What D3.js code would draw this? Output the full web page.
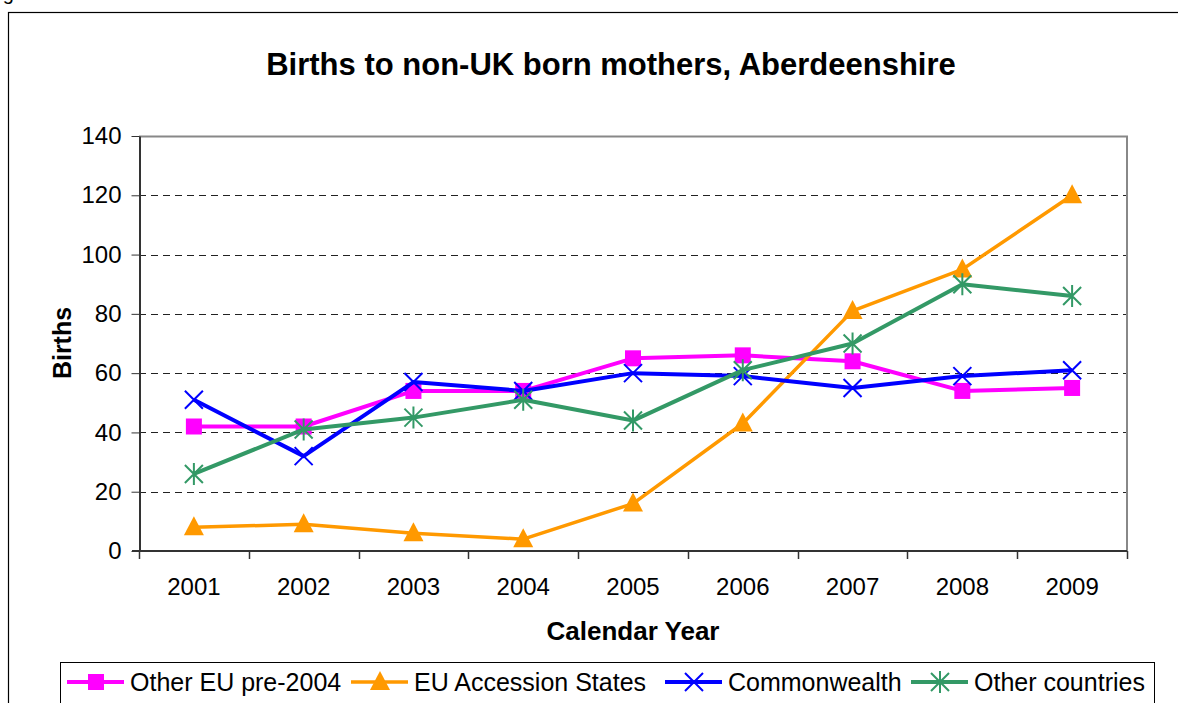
<!DOCTYPE html>
<html>
<head>
<meta charset="utf-8">
<script src="https://cdn.jsdelivr.net/npm/d3@7"></script>
<style>
  body { margin: 0; background: #fff; }
  svg { display: block; font-family: "Liberation Sans", Arial, sans-serif; }
</style>
</head>
<body>
<div id="chart"></div>
<script>
const years = ["2001", "2002", "2003", "2004", "2005", "2006", "2007", "2008", "2009"];
const yTicks = [0, 20, 40, 60, 80, 100, 120, 140];

const otherEU = [42, 42, 54, 54, 65, 66, 64, 54, 55];
const accession = [8, 9, 6, 4, 16, 43, 81, 95, 120];
const commonwealth = [51, 32, 57, 54, 60, 59, 55, 59, 61];
const otherCountries = [26, 41, 45, 51, 44, 61, 70, 90, 86];

const seriesNames = ["Other EU pre-2004", "EU Accession States", "Commonwealth", "Other countries"];

const width = 1178;
const height = 703;

const svg = d3
  .select("#chart")
  .append("svg")
  .attr("width", width)
  .attr("height", height);

// outer chart frame (cut off at right/bottom like the source)
svg.append("rect")
  .attr("x", 8.5).attr("y", 12.5)
  .attr("width", 1200).attr("height", 720)
  .attr("fill", "none").attr("stroke", "#000").attr("stroke-width", 1.2);

// leftover caption above the frame, only its descender shows
svg.append("text")
  .attr("x", -14).attr("y", 0)
  .attr("font-size", 20)
  .text("Figure");

const x = d3.scaleBand().domain(years).range([139, 1127]);
const y = d3.scaleLinear().domain([0, 140]).range([551, 136]);

svg.append("text")
  .attr("x", 611).attr("y", 75)
  .attr("text-anchor", "middle")
  .attr("font-size", 31)
  .attr("font-weight", "bold")
  .text("Births to non-UK born mothers, Aberdeenshire");

// grid
svg.append("g")
  .selectAll("line")
  .data(yTicks.filter((t) => t > 0 && t < 140))
  .join("line")
  .attr("x1", 139).attr("x2", 1127)
  .attr("y1", (d) => Math.round(y(d)) + 0.5)
  .attr("y2", (d) => Math.round(y(d)) + 0.5)
  .attr("stroke", "#222")
  .attr("stroke-dasharray", "7,5");

// plot area top and right edges
svg.append("path")
  .attr("d", `M139,${y(140) + 0.5}H1127V551`)
  .attr("fill", "none")
  .attr("stroke", "#888")
  .attr("stroke-width", 2);

// y axis
const yAxis = svg.append("g")
  .attr("transform", "translate(139.5,0)")
  .call(d3.axisLeft(y).tickValues(yTicks).tickSize(8).tickSizeOuter(0).tickPadding(10));
yAxis.select(".domain").attr("stroke", "#333").attr("stroke-width", 2);
yAxis.selectAll(".tick line").attr("stroke", "#333");
yAxis.selectAll("text")
  .attr("font-size", 24)
  .attr("font-family", "Liberation Sans, Arial, sans-serif")
  .attr("fill", "#000");

// x axis labels + boundary ticks
const xAxis = svg.append("g")
  .attr("transform", "translate(0,551)")
  .call(d3.axisBottom(x).tickSize(0).tickPadding(27));
xAxis.select(".domain").remove();
xAxis.selectAll("text")
  .attr("font-size", 24)
  .attr("font-family", "Liberation Sans, Arial, sans-serif")
  .attr("fill", "#000");

svg.append("line")
  .attr("x1", 132).attr("x2", 1127)
  .attr("y1", 551).attr("y2", 551)
  .attr("stroke", "#333").attr("stroke-width", 2);

const edges = years.map((d) => x(d)).concat([x.range()[1]]);
svg.append("g")
  .selectAll("line")
  .data(edges)
  .join("line")
  .attr("x1", (d) => Math.round(d) + 0.5).attr("x2", (d) => Math.round(d) + 0.5)
  .attr("y1", 551).attr("y2", 559)
  .attr("stroke", "#333").attr("stroke-width", 1.5);

// axis titles
svg.append("text")
  .attr("transform", "translate(71,343) rotate(-90)")
  .attr("text-anchor", "middle")
  .attr("font-size", 25)
  .attr("font-weight", "bold")
  .text("Births");

svg.append("text")
  .attr("x", 633).attr("y", 640)
  .attr("text-anchor", "middle")
  .attr("font-size", 26)
  .attr("font-weight", "bold")
  .text("Calendar Year");

// markers
function drawMarker(sel, type, color) {
  if (type === "square") {
    sel.append("rect")
      .attr("x", -8).attr("y", -8).attr("width", 16).attr("height", 16)
      .attr("fill", color);
  } else if (type === "triangle") {
    sel.append("path")
      .attr("d", "M0,-11L10,8H-10Z")
      .attr("fill", color);
  } else if (type === "x") {
    sel.append("path")
      .attr("d", "M-9,-9L9,9M9,-9L-9,9")
      .attr("stroke", color).attr("stroke-width", 2);
  } else {
    sel.append("path")
      .attr("d", "M-9,-9L9,9M9,-9L-9,9M0,-11V11")
      .attr("stroke", color).attr("stroke-width", 2);
  }
}

const series = [
  { name: seriesNames[0], values: otherEU, color: "#FF00FF", marker: "square", w: 4 },
  { name: seriesNames[1], values: accession, color: "#FF9900", marker: "triangle", w: 3.5 },
  { name: seriesNames[2], values: commonwealth, color: "#0000FF", marker: "x", w: 4 },
  { name: seriesNames[3], values: otherCountries, color: "#339966", marker: "star", w: 4 },
];

const line = d3.line()
  .x((d, i) => x(years[i]) + x.bandwidth() / 2)
  .y((d) => y(d));

series.forEach((s) => {
  const g = svg.append("g");
  g.append("path")
    .attr("d", line(s.values))
    .attr("fill", "none")
    .attr("stroke", s.color)
    .attr("stroke-width", s.w)
    .attr("stroke-linejoin", "round");
  g.selectAll("g")
    .data(s.values)
    .join("g")
    .attr("transform", (d, i) => `translate(${x(years[i]) + x.bandwidth() / 2},${y(d)})`)
    .each(function () {
      drawMarker(d3.select(this), s.marker, s.color);
    });
});

// legend
svg.append("rect")
  .attr("x", 60.5).attr("y", 662.5)
  .attr("width", 1094).attr("height", 60)
  .attr("fill", "#fff").attr("stroke", "#000");

const legendX = [67, 351, 665, 911];
series.forEach((s, i) => {
  const lg = svg.append("g").attr("transform", `translate(${legendX[i]},682)`);
  lg.append("line")
    .attr("x1", 0).attr("x2", 57)
    .attr("stroke", s.color).attr("stroke-width", s.w);
  const m = lg.append("g").attr("transform", "translate(29,0)");
  drawMarker(m, s.marker, s.color);
  lg.append("text")
    .attr("x", 63).attr("y", 9)
    .attr("font-size", 25)
    .text(s.name);
});
</script>
</body>
</html>
